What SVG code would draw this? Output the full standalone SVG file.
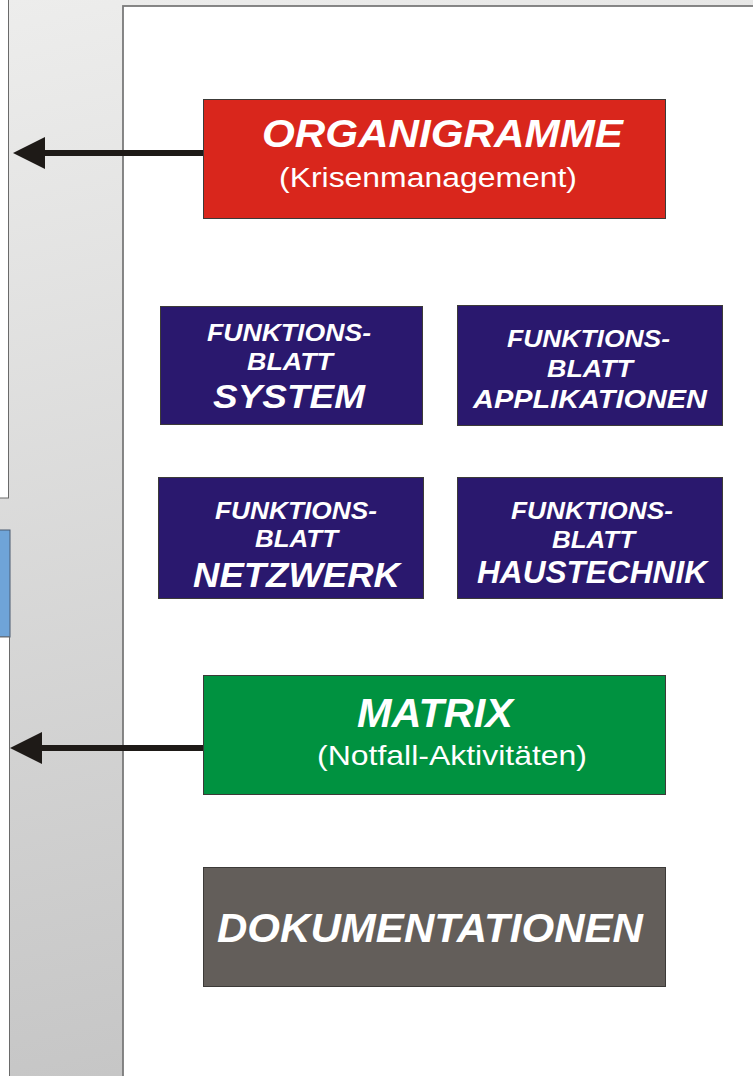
<svg xmlns="http://www.w3.org/2000/svg" width="753" height="1076" viewBox="0 0 753 1076">
<defs>
<linearGradient id="bandGrad" x1="0" y1="0" x2="0.15" y2="1">
<stop offset="0" stop-color="#ededec"/>
<stop offset="1" stop-color="#c6c6c6"/>
</linearGradient>
<marker id="arrowHead" markerWidth="32" markerHeight="32" viewBox="0 0 32 32" refX="0" refY="16" orient="auto" markerUnits="userSpaceOnUse">
<path d="M32,16 L0,0 L0,32 Z" fill="#1e1a17"/>
</marker>
</defs>
<style>
.node rect { stroke: #3c3a38; stroke-width: 1; }
.t { font-family: "Liberation Sans", Arial, sans-serif; fill: #ffffff; }
.bi { font-weight: bold; font-style: italic; }
.conn { stroke: #1e1a17; stroke-width: 6; fill: none; }
</style>

<!-- background band -->
<g id="background">
<rect x="0" y="0" width="753" height="1076" fill="url(#bandGrad)"/>
<rect x="-2" y="-2" width="10.5" height="500" fill="#ffffff" stroke="#6a6a6a" stroke-width="1"/>
<rect x="-2" y="530" width="12" height="107" fill="#6fa4d8" stroke="#4a5a70" stroke-width="1"/>
<rect x="-2" y="637" width="11.5" height="441" fill="#ffffff" stroke="#6a6a6a" stroke-width="1"/>
<rect x="123" y="6" width="632" height="1072" fill="#ffffff" stroke="#7a7a7a" stroke-width="1.8"/>
</g>

<g id="connectors">
<line class="conn" x1="203" y1="153" x2="45" y2="153" marker-end="url(#arrowHead)"/>
<line class="conn" x1="203" y1="748" x2="42" y2="748" marker-end="url(#arrowHead)"/>
</g>

<g id="organigramme" class="node">
<rect x="203.5" y="99.5" width="462" height="119" fill="#d9261c"/>
<text class="t bi" x="262" y="147" font-size="38" textLength="361" lengthAdjust="spacingAndGlyphs">ORGANIGRAMME</text>
<text class="t" x="279" y="187" font-size="27" textLength="298" lengthAdjust="spacingAndGlyphs">(Krisenmanagement)</text>
</g>

<g id="fb-system" class="node">
<rect x="160.5" y="306.5" width="262" height="118" fill="#2a186e"/>
<text class="t bi" x="207" y="341" font-size="23" textLength="164" lengthAdjust="spacingAndGlyphs">FUNKTIONS-</text>
<text class="t bi" x="247" y="370" font-size="23" textLength="86" lengthAdjust="spacingAndGlyphs">BLATT</text>
<text class="t bi" x="213" y="408" font-size="34" textLength="152" lengthAdjust="spacingAndGlyphs">SYSTEM</text>
</g>

<g id="fb-applikationen" class="node">
<rect x="457.5" y="305.5" width="265" height="120" fill="#2a186e"/>
<text class="t bi" x="507" y="347" font-size="24" textLength="163" lengthAdjust="spacingAndGlyphs">FUNKTIONS-</text>
<text class="t bi" x="547" y="377" font-size="24" textLength="86" lengthAdjust="spacingAndGlyphs">BLATT</text>
<text class="t bi" x="473" y="408" font-size="26" textLength="234" lengthAdjust="spacingAndGlyphs">APPLIKATIONEN</text>
</g>

<g id="fb-netzwerk" class="node">
<rect x="158.5" y="477.5" width="265" height="121" fill="#2a186e"/>
<text class="t bi" x="215" y="519" font-size="24" textLength="162" lengthAdjust="spacingAndGlyphs">FUNKTIONS-</text>
<text class="t bi" x="255" y="547" font-size="24" textLength="83" lengthAdjust="spacingAndGlyphs">BLATT</text>
<text class="t bi" x="193" y="587" font-size="35" textLength="207" lengthAdjust="spacingAndGlyphs">NETZWERK</text>
</g>

<g id="fb-haustechnik" class="node">
<rect x="457.5" y="477.5" width="265" height="121" fill="#2a186e"/>
<text class="t bi" x="511" y="519" font-size="24" textLength="162" lengthAdjust="spacingAndGlyphs">FUNKTIONS-</text>
<text class="t bi" x="552" y="548" font-size="24" textLength="83" lengthAdjust="spacingAndGlyphs">BLATT</text>
<text class="t bi" x="477" y="583" font-size="32" textLength="230" lengthAdjust="spacingAndGlyphs">HAUSTECHNIK</text>
</g>

<g id="matrix" class="node">
<rect x="203.5" y="675.5" width="462" height="119" fill="#009240"/>
<text class="t bi" x="357" y="727" font-size="40" textLength="156" lengthAdjust="spacingAndGlyphs">MATRIX</text>
<text class="t" x="317" y="765" font-size="28" textLength="270" lengthAdjust="spacingAndGlyphs">(Notfall-Aktivitäten)</text>
</g>

<g id="dokumentationen" class="node">
<rect x="203.5" y="867.5" width="462" height="119" fill="#635e5a"/>
<text class="t bi" x="217" y="942" font-size="41" textLength="426" lengthAdjust="spacingAndGlyphs">DOKUMENTATIONEN</text>
</g>
</svg>
